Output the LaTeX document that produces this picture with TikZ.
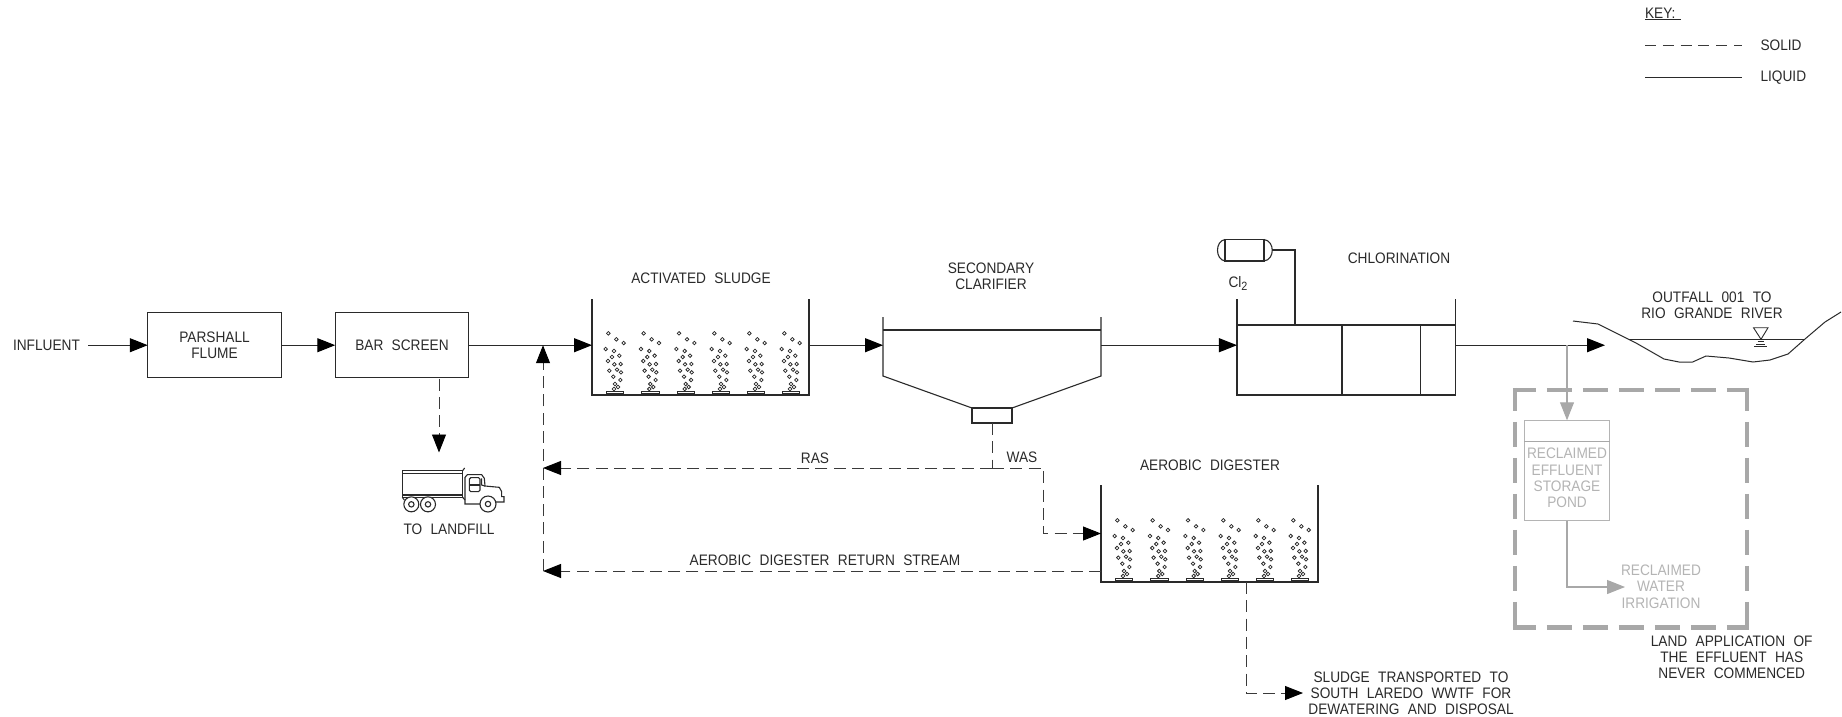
\documentclass[tikz,border=0pt]{standalone}
\usepackage{fontspec}
\setmainfont[FakeStretch=0.9,WordSpace=2.2]{Liberation Sans}
\usetikzlibrary{arrows.meta}
\definecolor{ink}{HTML}{2A2A2A}
\definecolor{dashink}{HTML}{3A3A3A}
\definecolor{faded}{HTML}{A8A8A8}
\definecolor{fadedtext}{HTML}{B4B4B4}
\tikzset{
  every node/.style={inner sep=0pt,outer sep=0pt},
  lbl/.style={font=\fontsize{15.2}{16.2}\selectfont,text=ink,align=center},
  glbl/.style={lbl,text=fadedtext},
  boxn/.style={draw=ink,line width=1.1pt,rectangle},
  hollow/.style={rectangle},
  wall/.style={draw=ink,line width=1.1pt},
  flow/.style={draw=ink,line width=1.1pt,-{Triangle[length=18pt,width=14pt,color=black,fill=black]}},
  sflow/.style={draw=dashink,line width=0.9pt,dash pattern=on 12pt off 6.3pt,-{Triangle[length=18pt,width=14pt,color=black,fill=black]}},
  dashl/.style={draw=dashink,line width=0.9pt,dash pattern=on 12pt off 6.3pt},
  gflow/.style={draw=faded,line width=1.1pt,-{Triangle[length=18pt,width=14pt,fill=faded]}},
  gbound/.style={draw=faded,line width=4.5pt,dash pattern=on 25pt off 11pt,dash phase=2pt},
}
\newcommand{\aerator}[2]{%
  \begin{scope}[shift={(#1,#2)},x=0.33333pt,y=-0.33333pt]
    \foreach \bx/\by in {-20/-185,4/-167,26/-156,-28/-138,-3/-132,-9/-114,13/-118,-21/-102,-2/-92,17/-93,-17/-73,6/-76,18/-68,-5/-55,16/-45,0/-33,9/-24,-3/-18}
      \draw[ink,line width=0.75pt] (\bx,\by) circle[radius=1.8pt];
    \draw[ink,line width=0.9pt,fill=white] (-26,-12) rectangle (26,-4);
    \draw[ink,line width=0.9pt] (-10,-4) rectangle (10,0);
  \end{scope}}
\begin{document}
\begin{tikzpicture}[x=1pt,y=-1pt]
\useasboundingbox[fill=white] (0,0) rectangle (1842,716);

% nodes
\node[lbl] (inf) at (46.5,345.7) {INFLUENT};
\coordinate (infl) at (88,345.2);
\node[boxn,minimum width=133.5pt,minimum height=65pt,lbl] (pf) at (214.5,345.2) {PARSHALL\\FLUME};
\node[boxn,minimum width=133.5pt,minimum height=65pt,lbl] (bar) at (402,345.2) {BAR SCREEN};
\node[hollow,minimum width=217pt,minimum height=96pt] (as) at (700.5,347) {};
\node[lbl] (asl) at (701,278) {ACTIVATED SLUDGE};
\node[hollow,minimum width=218pt,minimum height=59pt] (cl) at (992,346.5) {};
\node[lbl] (cll) at (991,276.5) {SECONDARY\\CLARIFIER};
\node[boxn,minimum width=40pt,minimum height=15pt] (sump) at (992,415.5) {};
\node[hollow,minimum width=218.5pt,minimum height=96pt] (ch) at (1346.2,347) {};
\node[lbl] (chl) at (1399,258) {CHLORINATION};
\node[lbl] (cl2) at (1238,283) {Cl\raisebox{-3pt}{\fontsize{12}{12}\selectfont 2}};
\node[hollow,minimum width=217pt,minimum height=97pt] (dig) at (1209.5,533.5) {};
\node[lbl] (digl) at (1210,465) {AEROBIC DIGESTER};
\node[lbl] (lf) at (449,529) {TO LANDFILL};
\node[lbl] (ras) at (815,458) {RAS};
\node[lbl] (was) at (1022,457) {WAS};
\node[lbl] (rsl) at (825,560) {AEROBIC DIGESTER RETURN STREAM};
\node[lbl] (slu) at (1411,693) {SLUDGE TRANSPORTED TO\\SOUTH LAREDO WWTF FOR\\DEWATERING AND DISPOSAL};
\node[lbl] (out) at (1712,305) {OUTFALL 001 TO\\RIO GRANDE RIVER};
\node[lbl] (land) at (1731.7,657) {LAND APPLICATION OF\\THE EFFLUENT HAS\\NEVER COMMENCED};
\node[draw=fadedtext,line width=1.1pt,minimum width=85.5pt,minimum height=100.5pt] (pond) at (1567,470.5) {};
\node[glbl] (pondl) at (1567,478) {RECLAIMED\\EFFLUENT\\STORAGE\\POND};
\node[glbl] (irr) at (1661,586.7) {RECLAIMED\\WATER\\IRRIGATION};
\node[lbl,anchor=west] (key) at (1645,13.5) {KEY:};
\node[lbl,anchor=west] (sol) at (1760.5,45) {SOLID};
\node[lbl,anchor=west] (liq) at (1760.5,77.5) {LIQUID};

% tanks
\draw[wall] (as.north west) -- (as.south west) -- (as.south east) -- (as.north east);
\draw[wall] (dig.north west) -- (dig.south west) -- (dig.south east) -- (dig.north east);
\draw[wall] (cl.north west) -- (cl.south west) -- (sump.north west) -- (sump.north east) -- (cl.south east) -- (cl.north east);
\draw[wall] (cl.west |- 0,330) -- (cl.east |- 0,330);
\draw[wall] (ch.north west) -- (ch.south west) -- (ch.south east) -- (ch.north east);
\draw[wall] (ch.west |- 0,325) -- (ch.east |- 0,325);
\draw[wall] (1342,325) -- (1342,395);
\draw[wall,line width=0.9pt] (1420.5,325) -- (1420.5,395);

% aerators
\foreach \ax in {615,650.3,685.7,721,756,791} \aerator{\ax}{395};
\foreach \ax in {1124,1159.3,1194.7,1230,1265,1300} \aerator{\ax}{582};

% chlorine cylinder
\draw[wall] (1225,239.5) rectangle (1264,261);
\draw[wall] (1225,239.5) .. controls (1215,241) and (1215,259.5) .. (1225,261);
\draw[wall] (1264,239.5) .. controls (1275,241) and (1275,259.5) .. (1264,261);
\draw[wall] (1272,250) -- (1295,250) -- (1295,325);

% liquid flows
\draw[flow] (infl) -- (pf.west);
\draw[flow] (pf.east) -- (bar.west);
\draw[flow] (bar.east) -- (as.west |- bar.east);
\draw[flow] (as.east |- bar.east) -- (cl.west |- bar.east);
\draw[flow] (cl.east |- bar.east) -- (ch.west |- bar.east);
\coordinate (outtip) at (1605,345.2);
\coordinate (branch) at (1567,345.2);
\draw[flow] (ch.east |- bar.east) -- (outtip);

% solids flows
\coordinate (barout) at (439,378.5);
\coordinate (truckin) at (439,452.5);
\draw[sflow] (barout) -- (truckin);
\coordinate (sj) at (992,468);
\coordinate (rastip) at (543,468);
\coordinate (wasc) at (1043.5,468);
\coordinate (rettip) at (543,571);
\coordinate (retsrc) at (1101,571);
\coordinate (upr) at (543,345.2);
\coordinate (slj) at (1246,582);
\coordinate (slc) at (1246,693);
\coordinate (sltip) at (1303,693);
\draw[dashl] (sump.south) -- (sj);
\draw[sflow] (sj) -- (rastip);
\draw[sflow] (sj) -- (wasc) -- (wasc |- dig.west) -- (dig.west);
\draw[sflow] (retsrc) -- (rettip);
\draw[sflow] (rettip) -- (upr);
\draw[sflow] (slj) -- (slc) -- (sltip);

% river
\draw[wall,line width=1pt] (1573,321) -- (1598,324) -- (1636,343) -- (1664,359) -- (1679,362) -- (1692.6,362) -- (1706,356) -- (1729,358) -- (1753,362) -- (1770,360) -- (1788,354) -- (1805,339) -- (1825,322) -- (1841,312);
\draw[wall,line width=1pt] (1629,339.3) -- (1804,339.3);
\draw[wall,line width=0.9pt] (1753.5,327.7) -- (1768,327.7) -- (1761,339.3) -- cycle;
\draw[wall,line width=0.9pt] (1757.6,341.7) -- (1764,341.7) (1756,344) -- (1765,344) (1754,346.3) -- (1767,346.3);

% land application (never commenced)
\draw[gflow] (branch) -- (pond.north);
\draw[faded,line width=1.1pt] (pond.west |- 0,441.3) -- (pond.east |- 0,441.3);
\coordinate (irrc) at (pond.south |- 0,587);
\coordinate (irrt) at (1625,587);
\draw[gflow] (pond.south) -- (irrc) -- (irrt);
\draw[gbound] (1512.8,390) -- (1749.2,390);
\draw[gbound] (1512.8,627.7) -- (1749.2,627.7);
\draw[gbound] (1515,387.8) -- (1515,630);
\draw[gbound] (1747,387.8) -- (1747,630);

% truck
\begin{scope}[shift={(380,440)},x=0.33333pt,y=-0.33333pt]
  \draw[ink,line width=1.1pt] (67,92) rectangle (248,172);
  \draw[ink,line width=1.1pt] (67,100) -- (248,100) (67,165) -- (248,165);
  \draw[ink,line width=1.1pt] (248,92) -- (254,84);
  \draw[ink,line width=1.1pt] (300,192) -- (255,192) -- (255,112) -- (262,104) -- (305,104) -- (313,115) -- (315,138) -- (358,142) -- (365,155) -- (365,170) -- (372,170) -- (372,186) -- (348,186);
  \draw[ink,line width=1.1pt,rounded corners=1.5pt] (268,113) rectangle (300,155);
  \draw[ink,line width=1.1pt] (268,135) -- (300,135);
  \draw[ink,line width=1.1pt] (305,115) -- (305,135) -- (315,138);
  \draw[ink,line width=1.1pt] (67,172) -- (73,180) (248,172) -- (255,180);
  \foreach \wx/\wy/\wr in {94/193/7.5,144/193/7.5,324/192/8}{
    \draw[ink,line width=1.1pt,fill=white] (\wx,\wy) circle[radius=\wr pt];
    \draw[ink,line width=1.1pt] (\wx,\wy) circle[radius=2.7pt];
  }
\end{scope}

% key
\draw[wall] (key.south west |- 0,19.5) -- (1680.5,19.5);
\coordinate (k1a) at (1645,45); \coordinate (k1b) at (1742,45);
\coordinate (k2a) at (1645,77.5); \coordinate (k2b) at (1742,77.5);
\draw[dashl,dash pattern=on 11pt off 6.8pt] (k1a) -- (k1b);
\draw[wall] (k2a) -- (k2b);
\end{tikzpicture}
\end{document}
